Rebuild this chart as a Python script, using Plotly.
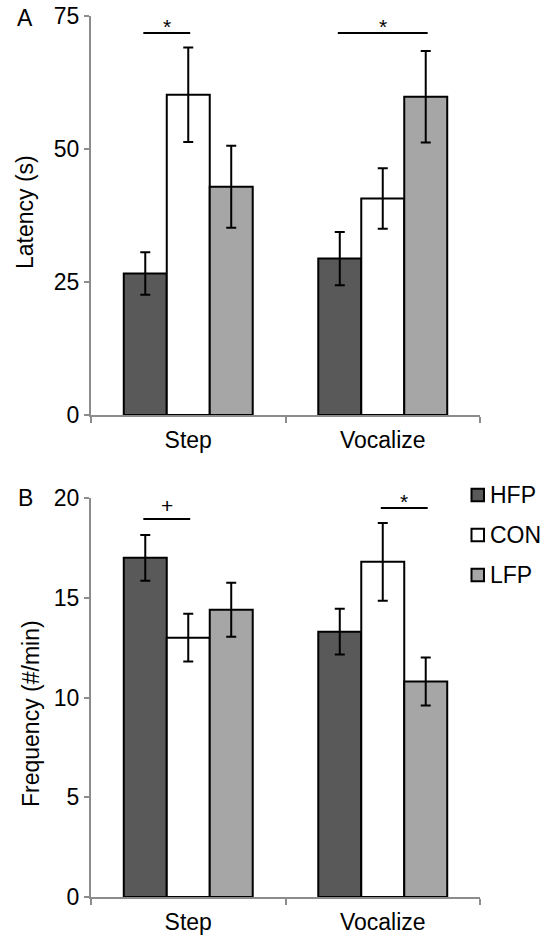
import plotly.graph_objects as go
from plotly.subplots import make_subplots

# ---- data ----
behaviours = ["Step", "Vocalize"]
groups = ["HFP", "CON", "LFP"]
group_fills = ["#595959", "#ffffff", "#a6a6a6"]

latency_hfp = [26.6, 29.4]
latency_con = [60.2, 40.7]
latency_lfp = [42.9, 59.8]
latency_hfp_sem = [4.0, 5.0]
latency_con_sem = [8.9, 5.7]
latency_lfp_sem = [7.7, 8.6]

freq_hfp = [17.0, 13.3]
freq_con = [13.0, 16.8]
freq_lfp = [14.4, 10.8]
freq_hfp_sem = [1.15, 1.15]
freq_con_sem = [1.2, 1.95]
freq_lfp_sem = [1.35, 1.2]

latency_ticks = [0, 25, 50, 75]
freq_ticks = [0, 5, 10, 15, 20]

# significance brackets: (behaviour index, group a, group b, height, mark)
latency_sig = [(0, "HFP", "CON", 71.8, "*"), (1, "HFP", "LFP", 71.8, "*")]
freq_sig = [(0, "HFP", "CON", 18.95, "+"), (1, "CON", "LFP", 19.5, "*")]

# ---- layout geometry ----
W, H = 555, 937
ML, MR, MT, MB = 91, 75, 16, 40
PW, PH = W - ML - MR, H - MT - MB
FONT = "Liberation Sans, Arial, sans-serif"
FS = 23
AXIS_GREY = "#8c8c8c"
BARGAP = 0.337


def xp(px):
    return (px - ML) / PW


def yp(py):
    return (H - MB - py) / PH


top_dom = [yp(415), 1.0]
bot_dom = [0.0, yp(498)]

fig = make_subplots(rows=2, cols=1, vertical_spacing=0.05)

panels = [
    (1, [latency_hfp, latency_con, latency_lfp],
     [latency_hfp_sem, latency_con_sem, latency_lfp_sem]),
    (2, [freq_hfp, freq_con, freq_lfp],
     [freq_hfp_sem, freq_con_sem, freq_lfp_sem]),
]

for row, means, sems in panels:
    for g, fill, m, s in zip(groups, group_fills, means, sems):
        fig.add_trace(
            go.Bar(
                x=behaviours, y=m, name=g, showlegend=False,
                marker=dict(color=fill, line=dict(color="#000000", width=2)),
                error_y=dict(type="data", array=s, visible=True,
                             color="#000000", thickness=2, width=5),
            ),
            row=row, col=1,
        )

fig.update_layout(
    width=W, height=H,
    margin=dict(l=ML, r=MR, t=MT, b=MB, autoexpand=False),
    barmode="group", bargap=BARGAP, bargroupgap=0,
    plot_bgcolor="white", paper_bgcolor="white",
    font=dict(family=FONT, size=FS, color="#000000"),
    showlegend=False,
)

xaxis_style = dict(
    automargin=False,
    showline=True, linecolor=AXIS_GREY, linewidth=2,
    ticks="outside", tickson="boundaries", ticklen=6, tickwidth=2,
    tickcolor=AXIS_GREY, showgrid=False, zeroline=False,
    range=[-0.5, 1.5], ticklabelstandoff=3,
    tickfont=dict(family=FONT, size=FS, color="#000000"),
)
yaxis_style = dict(
    automargin=False,
    showline=True, linecolor=AXIS_GREY, linewidth=2,
    ticks="outside", ticklen=5, tickwidth=2, tickcolor=AXIS_GREY,
    showgrid=False, zeroline=False, ticklabelstandoff=0,
    tickfont=dict(family=FONT, size=FS, color="#000000"),
)
fig.update_xaxes(**xaxis_style)
fig.update_yaxes(**yaxis_style)
fig.update_layout(
    yaxis=dict(domain=top_dom, range=[0, 75], tickvals=latency_ticks),
    yaxis2=dict(domain=bot_dom, range=[0, 20], tickvals=freq_ticks),
)

# significance brackets, positioned on the bar centres
bar_w = (1 - BARGAP) / len(groups)


def bar_centre(bi, g):
    return bi + (groups.index(g) - 1) * bar_w


for xref, yref, sigs in [("x", "y", latency_sig), ("x2", "y2", freq_sig)]:
    for bi, ga, gb, h, mark in sigs:
        x0 = bar_centre(bi, ga) - 0.01
        x1 = bar_centre(bi, gb) + 0.01
        fig.add_shape(type="line", xref=xref, yref=yref, x0=x0, x1=x1,
                      y0=h, y1=h, line=dict(color="#000000", width=2))
        fig.add_annotation(xref=xref, yref=yref, x=(x0 + x1) / 2, y=h,
                           text=mark, showarrow=False, yanchor="bottom",
                           xanchor="center",
                           yshift=-7 if mark == "*" else 0,
                           font=dict(family=FONT, size=FS - 2, color="#000000"))

# axis titles
fig.add_annotation(xref="paper", yref="paper", x=xp(25), y=yp(212),
                   text="Latency (s)", textangle=-90, showarrow=False,
                   xanchor="center", yanchor="middle",
                   font=dict(family=FONT, size=FS, color="#000000"))
fig.add_annotation(xref="paper", yref="paper", x=xp(31), y=yp(714),
                   text="Frequency (#/min)", textangle=-90, showarrow=False,
                   xanchor="center", yanchor="middle",
                   font=dict(family=FONT, size=FS, color="#000000"))

# panel letters
for letter, cy in [("A", 18), ("B", 498)]:
    fig.add_annotation(xref="paper", yref="paper", x=xp(25), y=yp(cy),
                       text=letter, showarrow=False, xanchor="center",
                       yanchor="middle",
                       font=dict(family=FONT, size=FS, color="#000000"))

# group key
key_y = [495, 535, 575]
for g, fill, cy in zip(groups, group_fills, key_y):
    fig.add_shape(type="rect", xref="paper", yref="paper",
                  x0=xp(471.5), x1=xp(484), y0=yp(cy + 6.25), y1=yp(cy - 6.25),
                  fillcolor=fill, line=dict(color="#000000", width=2))
    fig.add_annotation(xref="paper", yref="paper", x=xp(488), y=yp(cy),
                       text=g, showarrow=False, xanchor="left", yanchor="middle",
                       font=dict(family=FONT, size=FS, color="#000000"))

fig.write_html("out.html")
